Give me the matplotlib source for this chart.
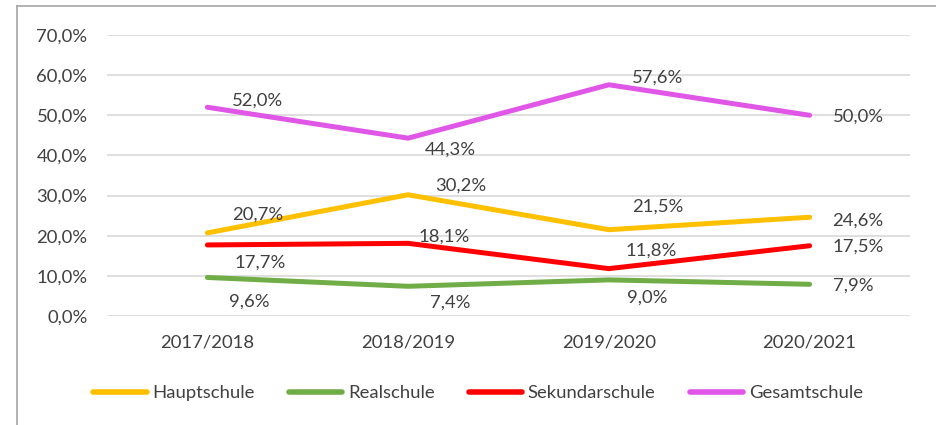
import matplotlib.pyplot as plt
from matplotlib.lines import Line2D
from matplotlib.ticker import FuncFormatter

plt.rcParams['font.family'] = ['Lato', 'DejaVu Sans']

# ── data ──────────────────────────────────────────────────────────────────────
years = ["2017/2018", "2018/2019", "2019/2020", "2020/2021"]
hauptschule = [20.7, 30.2, 21.5, 24.6]
realschule = [9.6, 7.4, 9.0, 7.9]
sekundarschule = [17.7, 18.1, 11.8, 17.5]
gesamtschule = [52.0, 44.3, 57.6, 50.0]

TXT = "#404040"
GRID = "#D9D9D9"
FS = 13.3

# label offsets in pixels (dx, dy) per point; last point is left-aligned
series = [
    ("Hauptschule", hauptschule, "#FFC000",
     [(50, 18), (53, 9), (49, 23), (23, -3)]),
    ("Realschule", realschule, "#70AD47",
     [(42, -24), (42, -16), (38, -18), (23, -1)]),
    ("Sekundarschule", sekundarschule, "#FF0000",
     [(53, -18), (36, 7), (42, 18), (23, -1)]),
    ("Gesamtschule", gesamtschule, "#E056E6",
     [(50, 7), (42, -11), (49, 7), (23, -1)]),
]

fig = plt.figure(figsize=(9.37, 4.25), dpi=100)
ax = fig.add_axes([107 / 937, 109 / 425, 803 / 937, 281 / 425])

x = list(range(len(years)))
for name, vals, col, offs in series:
    ax.plot(x, vals, color=col, lw=3.6, solid_capstyle="round", label=name, zorder=3)
    for i, (xi, v, (dx, dy)) in enumerate(zip(x, vals, offs)):
        ha = "left" if i == len(vals) - 1 else "center"
        ax.annotate(f"{v:.1f}%".replace(".", ","), (xi, v),
                    xytext=(dx * 0.72, dy * 0.72), textcoords="offset points",
                    ha=ha, va="center", fontsize=FS, color=TXT, zorder=4)

ax.set_xlim(-0.5, 3.5)
ax.set_ylim(0, 70)
ax.set_yticks(range(0, 71, 10))
ax.yaxis.set_major_formatter(FuncFormatter(lambda v, p: f"{v:.1f}%".replace(".", ",")))
ax.set_xticks(x)
ax.set_xticklabels(years)
ax.tick_params(axis="both", length=0, labelsize=FS, labelcolor=TXT)
ax.tick_params(axis="x", pad=13)
ax.tick_params(axis="y", pad=14)
ax.grid(axis="y", color=GRID, lw=1.2)
ax.set_axisbelow(True)
for s in ax.spines.values():
    s.set_visible(False)

handles = [Line2D([], [], color=c, lw=4, solid_capstyle="round") for _, _, c, _ in series]
fig.legend(handles, [s[0] for s in series], loc="center", bbox_to_anchor=(0.51, 1 - 393 / 425),
           ncol=4, frameon=False, fontsize=FS, labelcolor=TXT, handlelength=2.9,
           handletextpad=0.3, columnspacing=1.85)

# outer chart frame (only left and top edges visible)
fig.add_artist(Line2D([17 / 937, 17 / 937], [0, 1 - 6 / 425], color="#A6A6A6", lw=1.2))
fig.add_artist(Line2D([17 / 937, 1], [1 - 6 / 425, 1 - 6 / 425], color="#A6A6A6", lw=1.2))

fig.savefig("out.png", dpi=100, facecolor="white")
